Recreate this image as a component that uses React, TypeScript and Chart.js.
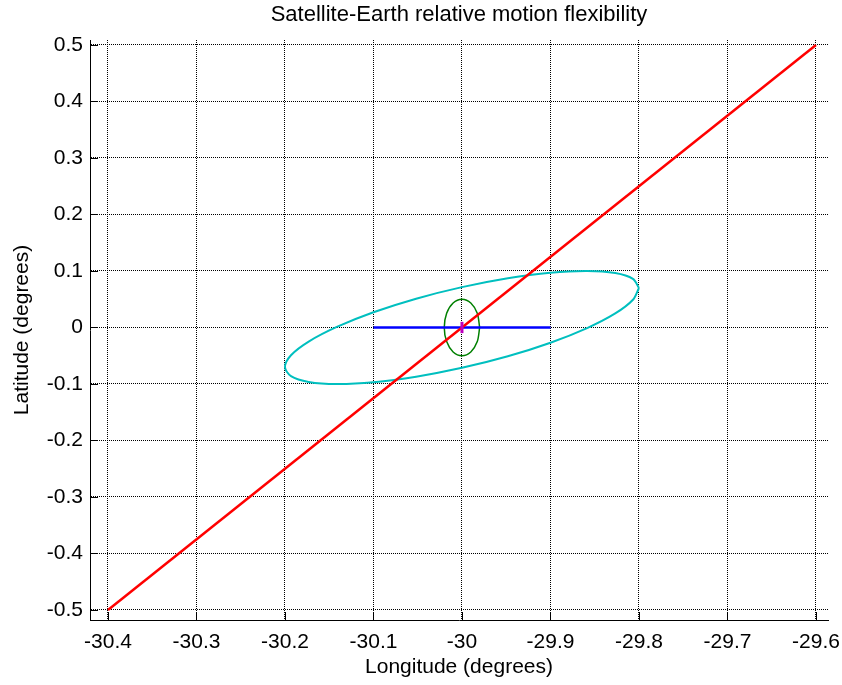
import React, { useEffect, useRef } from "react";
import { Chart, registerables } from "chart.js";

Chart.register(...registerables);

const titleText = "Satellite-Earth relative motion flexibility";
const xAxisTitle = "Longitude (degrees)";
const yAxisTitle = "Latitude (degrees)";

const xTickValues = [-30.4, -30.3, -30.2, -30.1, -30.0, -29.9, -29.8, -29.7, -29.6];
const yTickValues = [-0.5, -0.4, -0.3, -0.2, -0.1, 0, 0.1, 0.2, 0.3, 0.4, 0.5];
const xLimits = [-30.4203, -29.5864];
const yLimits = [-0.5177, 0.5088];

// red diagonal
const redX = [-30.4, -29.6];
const redY = [-0.5, 0.5];

// blue horizontal segment
const blueX = [-30.1, -29.9];
const blueY = [0, 0];

// magenta short vertical mark at centre
const magentaX = [-30, -30];
const magentaY = [-0.01, 0.01];

// cyan tilted ellipse
const cyanX = [
  -29.8, -29.8068, -29.8268, -29.8586, -29.9, -29.9482, -30.0, -30.0518, -30.1, -30.1414, -30.1732, -30.1932,
  -30.2, -30.1932, -30.1732, -30.1414, -30.1, -30.0518, -30.0, -29.9482, -29.9, -29.8586, -29.8268, -29.8068, -29.8,
];
const cyanY = [
  0.07, 0.0861, 0.0963, 0.1, 0.0969, 0.0871, 0.0714, 0.0509, 0.0269, 0.001, -0.0249, -0.0491,
  -0.07, -0.0861, -0.0963, -0.1, -0.0969, -0.0871, -0.0714, -0.0509, -0.0269, -0.001, 0.0249, 0.0491, 0.07,
];

// green small ellipse
const greenX = [
  -29.98, -29.9827, -29.99, -30.0, -30.01, -30.0173, -30.02, -30.0173, -30.01, -30.0, -29.99, -29.9827, -29.98,
];
const greenY = [
  0, 0.025, 0.0433, 0.05, 0.0433, 0.025, 0, -0.025, -0.0433, -0.05, -0.0433, -0.025, 0,
];

const FONT = "'Liberation Sans', Arial, sans-serif";

function pts(xs: number[], ys: number[]) {
  return xs.map((x, i) => ({ x, y: ys[i] }));
}

function fmt(v: number) {
  return String(parseFloat(Number(v).toFixed(1)));
}

const innerTicks = {
  id: "innerTicks",
  afterDatasetsDraw(chart: any) {
    const { ctx, chartArea } = chart;
    const xs = chart.scales.x;
    const ys = chart.scales.y;
    const len = 8;
    ctx.save();
    ctx.strokeStyle = "#000";
    ctx.lineWidth = 1;
    ctx.setLineDash([]);
    ctx.beginPath();
    xTickValues.forEach((v) => {
      const px = Math.round(xs.getPixelForValue(v)) + 0.5;
      ctx.moveTo(px, chartArea.bottom);
      ctx.lineTo(px, chartArea.bottom - len);
    });
    yTickValues.forEach((v) => {
      const py = Math.round(ys.getPixelForValue(v)) + 0.5;
      ctx.moveTo(chartArea.left, py);
      ctx.lineTo(chartArea.left + len, py);
    });
    ctx.stroke();
    ctx.restore();
  },
};

export default function App() {
  const ref = useRef<HTMLCanvasElement>(null);
  useEffect(() => {
    if (!ref.current) return;
    const line = (data: any, color: string, width: number, tension = 0) => ({
      data,
      borderColor: color,
      backgroundColor: color,
      borderWidth: width,
      showLine: true,
      pointRadius: 0,
      tension,
      fill: false,
    });
    const chart = new Chart(ref.current, {
      type: "scatter",
      data: {
        datasets: [
          line(pts(magentaX, magentaY), "#BF00BF", 3),
          line(pts(redX, redY), "#FF0000", 2.5),
          line(pts(blueX, blueY), "#0000FF", 2.5),
          line(pts(greenX, greenY), "#008000", 1.5, 0.3),
          line(pts(cyanX, cyanY), "#00BFBF", 2, 0.3),
        ] as any,
      },
      plugins: [innerTicks],
      options: {
        animation: false,
        responsive: false,
        devicePixelRatio: 1,
        layout: { padding: { left: 0, right: 14, top: 0, bottom: 0 } },
        plugins: {
          legend: { display: false },
          tooltip: { enabled: false },
          title: {
            display: true,
            fullSize: false,
            text: titleText,
            color: "#000",
            font: { family: FONT, size: 22, weight: "normal", lineHeight: 1 },
            padding: { top: 4, bottom: 14 },
          },
        },
        scales: {
          x: {
            type: "linear",
            min: xLimits[0],
            max: xLimits[1],
            afterBuildTicks: (s: any) => {
              s.ticks = xTickValues.map((v) => ({ value: v }));
            },
            afterFit: (s: any) => {
              s.height = 65;
              s.paddingLeft = 0;
              s.paddingRight = 0;
            },
            ticks: {
              autoSkip: false,
              maxRotation: 0,
              padding: 10,
              color: "#000",
              font: { family: FONT, size: 21 },
              callback: (v: any) => fmt(v),
            },
            grid: {
              color: "#000",
              lineWidth: 1,
              drawTicks: false,
              tickLength: 0,
            },
            border: { display: true, color: "#000", width: 1, dash: [1, 1] },
            title: {
              display: true,
              text: xAxisTitle,
              color: "#000",
              font: { family: FONT, size: 21, lineHeight: 1 },
              padding: { top: 0, bottom: 7.5 },
            },
          } as any,
          y: {
            type: "linear",
            min: yLimits[0],
            max: yLimits[1],
            afterBuildTicks: (s: any) => {
              s.ticks = yTickValues.map((v) => ({ value: v }));
            },
            afterFit: (s: any) => {
              s.width = 90;
              s.paddingTop = 0;
              s.paddingBottom = 0;
            },
            ticks: {
              autoSkip: false,
              padding: 7,
              color: "#000",
              font: { family: FONT, size: 21 },
              callback: (v: any) => fmt(v),
            },
            grid: {
              color: "#000",
              lineWidth: 1,
              drawTicks: false,
              tickLength: 0,
            },
            border: { display: true, color: "#000", width: 1, dash: [1, 1] },
            title: {
              display: true,
              text: yAxisTitle,
              color: "#000",
              font: { family: FONT, size: 21, lineHeight: 1 },
              padding: { top: 11.5, bottom: 0 },
            },
          } as any,
        },
      },
    });
    return () => chart.destroy();
  }, []);
  return (
    <div style={{ position: "absolute", left: 0, top: 0, width: 842, height: 685, background: "#fff" }}>
      <canvas ref={ref} width={842} height={685} style={{ width: 842, height: 685, display: "block" }} />
    </div>
  );
}
